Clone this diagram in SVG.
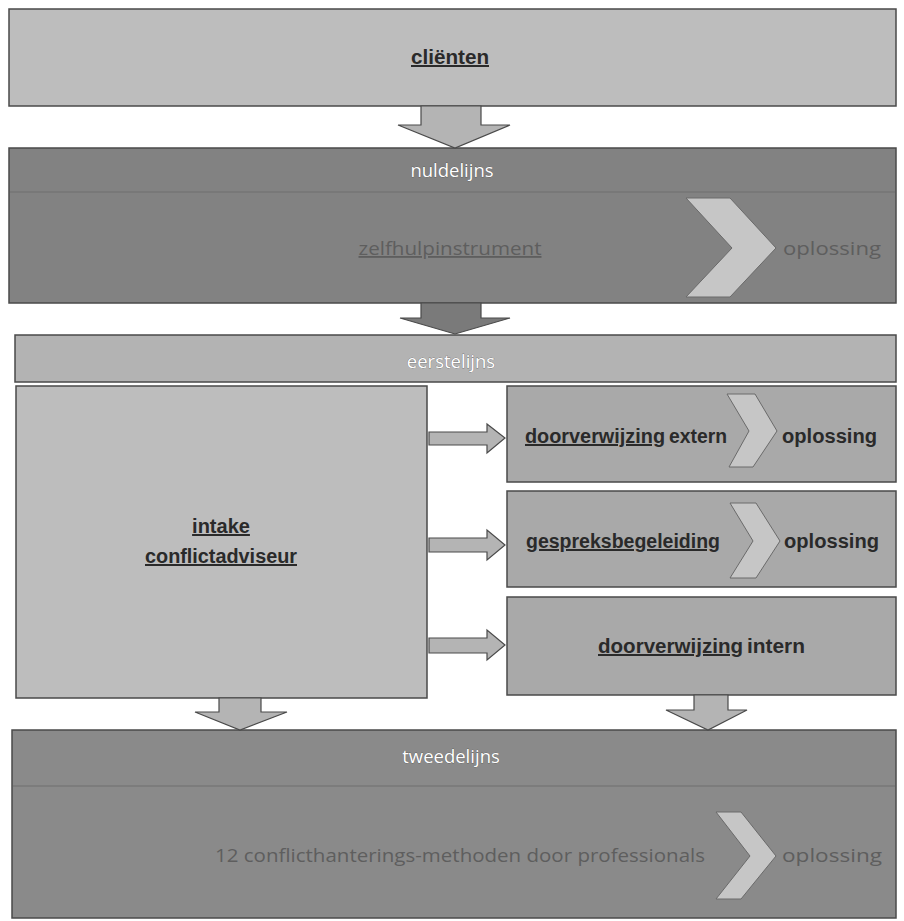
<svg xmlns="http://www.w3.org/2000/svg" width="904" height="921" viewBox="0 0 904 921">
<style>
.box{stroke:#4a4a4a;stroke-width:1.5}
.light{fill:#bdbdbd}
.mid{fill:#a9a9a9}
.dark{fill:#828282}
.hdr{font-family:"Open Sans","Liberation Sans",sans-serif;font-size:18.5px;fill:#ffffff;text-anchor:middle;stroke:#3a3a3a;stroke-width:0.4;paint-order:stroke}
.bold{font-family:"Liberation Sans",sans-serif;font-weight:bold;font-size:20px;fill:#2a2a2a;text-anchor:middle}
.st{text-anchor:start}
.faint{font-family:"Open Sans","Liberation Sans",sans-serif;font-size:18px;fill:#5e5e5e;text-anchor:middle}
.chev{fill:#c6c6c6;stroke:#6a6a6a;stroke-width:1}
.arr{fill:#b4b4b4;stroke:#4a4a4a;stroke-width:1.2}
.sep{stroke:#6e6e6e;stroke-width:1.2}
.ul{text-decoration:underline}
</style>
<rect width="904" height="921" fill="#ffffff"/>
<g id="clienten">
<rect class="box light" x="9" y="9" width="887" height="97"/>
<text class="bold ul" x="450" y="64" textLength="78" lengthAdjust="spacingAndGlyphs">cliënten</text>
</g>
<g id="nuldelijns">
<rect class="box dark" x="9" y="148" width="887" height="155"/>
<line class="sep" x1="10" y1="192" x2="895" y2="192"/>
<text class="hdr" x="452" y="177">nuldelijns</text>
<text class="faint ul" x="450" y="255" textLength="183" lengthAdjust="spacingAndGlyphs">zelfhulpinstrument</text>
<polygon class="chev" points="686,198 730,198 776,248 730,297 686,297 732,248"/>
<text class="faint" x="832" y="255" textLength="98" lengthAdjust="spacingAndGlyphs">oplossing</text>
</g>
<g id="eerstelijns">
<rect class="box mid" x="15" y="335" width="881" height="47" style="fill:#b3b3b3"/>
<text class="hdr" x="451" y="368">eerstelijns</text>
</g>
<g id="intake">
<rect class="box light" x="16" y="386" width="411" height="312"/>
<text class="bold ul" x="221" y="533">intake</text>
<text class="bold ul" x="221" y="563" textLength="152" lengthAdjust="spacingAndGlyphs">conflictadviseur</text>
</g>
<g id="extern">
<rect class="box mid" x="507" y="386" width="389" height="96"/>
<polygon class="chev" points="727,394 755,394 777,431 753,467 729,467 749,431"/>
<text class="bold st ul" x="525" y="443" textLength="140" lengthAdjust="spacingAndGlyphs">doorverwijzing</text>
<text class="bold st" x="669" y="443" textLength="58" lengthAdjust="spacingAndGlyphs">extern</text>
<text class="bold st" x="782" y="443" textLength="95" lengthAdjust="spacingAndGlyphs">oplossing</text>
</g>
<g id="gespreksbegeleiding">
<rect class="box mid" x="507" y="491" width="389" height="96"/>
<polygon class="chev" points="730,503 756,503 780,541 756,578 730,578 753,541"/>
<text class="bold st ul" x="526" y="548" textLength="194" lengthAdjust="spacingAndGlyphs">gespreksbegeleiding</text>
<text class="bold st" x="784" y="548" textLength="95" lengthAdjust="spacingAndGlyphs">oplossing</text>
</g>
<g id="intern">
<rect class="box mid" x="507" y="597" width="389" height="98"/>
<text class="bold st ul" x="598" y="653" textLength="145" lengthAdjust="spacingAndGlyphs">doorverwijzing</text>
<text class="bold st" x="747" y="653" textLength="58" lengthAdjust="spacingAndGlyphs">intern</text>
</g>
<g id="tweedelijns">
<rect class="box dark" x="12" y="730" width="884" height="188" style="fill:#8a8a8a"/>
<line class="sep" x1="13" y1="786" x2="895" y2="786"/>
<text class="hdr" x="451" y="763">tweedelijns</text>
<text class="faint" x="460" y="862" textLength="490" lengthAdjust="spacingAndGlyphs">12 conflicthanterings-methoden door professionals</text>
<polygon class="chev" points="716,812 741,812 776,856 741,899 716,899 750,856"/>
<text class="faint" x="832" y="862" textLength="100" lengthAdjust="spacingAndGlyphs">oplossing</text>
</g>
<g id="connectors">
<polygon class="arr" points="421,106 481,106 481,125 510,125 455,148 398,125 421,125"/>
<polygon class="arr" points="421,303 481,303 481,318 510,318 455,334 400,318 421,318" style="fill:#7a7a7a"/>
<polygon class="arr" points="429,432 487,432 487,424 505,438 487,453 487,445 429,445"/>
<polygon class="arr" points="429,538 487,538 487,530 505,545 487,560 487,552 429,552"/>
<polygon class="arr" points="429,638 487,638 487,630 505,645 487,660 487,653 429,653"/>
<polygon class="arr" points="219,698 261,698 261,712 287,712 240,730 195,712 219,712"/>
<polygon class="arr" points="694,695 728,695 728,710 747,710 708,730 666,710 694,710"/>
</g>
</svg>
